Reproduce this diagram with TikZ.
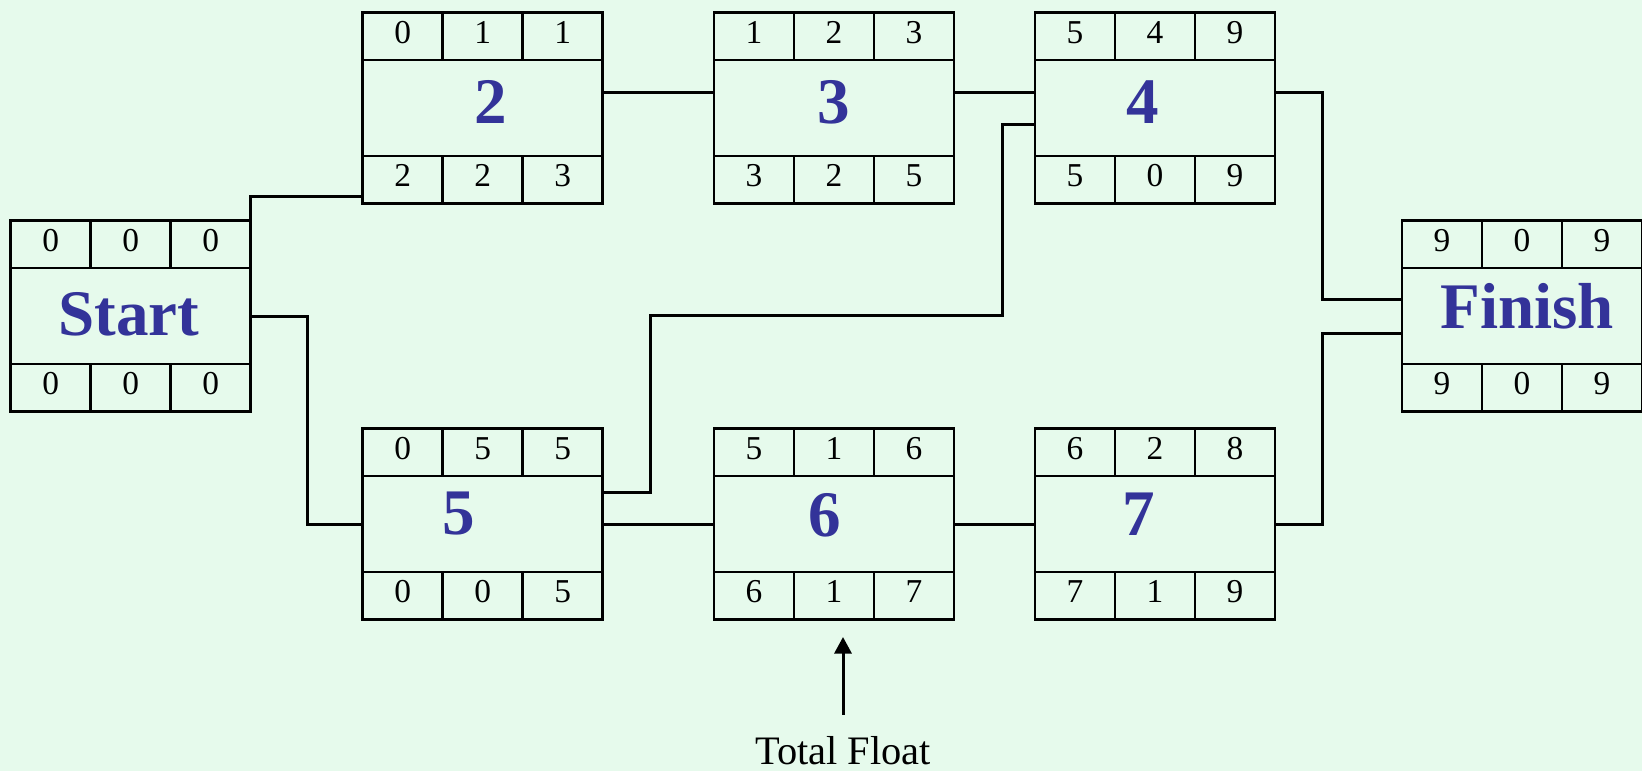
\documentclass[tikz,border=0pt]{standalone}
\usepackage{fontspec}
\setmainfont{Liberation Serif}
\usepackage{tikz}
\usetikzlibrary{arrows.meta,positioning,calc}
\definecolor{actblue}{HTML}{333399}
\definecolor{mint}{HTML}{E6FAEC}

\begin{document}
\begin{tikzpicture}[x=0.2mm, y=-0.2mm,
    actbox/.style={rectangle, draw, line width=0.55mm, minimum width=48mm, minimum height=19.2mm, inner sep=0pt, outer sep=0pt},
    cell/.style={rectangle, draw, line width=0.55mm, minimum width=16mm, minimum height=9.5mm, inner sep=0pt, outer sep=0pt, text depth=1.6mm, font=\fontsize{19}{19}\selectfont},
    actname/.style={inner sep=0pt, anchor=base, text=actblue, font=\fontsize{37}{37}\selectfont\bfseries},
    link/.style={line width=0.6mm},
    pointer/.style={line width=0.6mm, -{Triangle[width=3.4mm,length=3.3mm]}},
    floatlbl/.style={inner sep=0pt, outer ysep=4.2mm, anchor=base, font=\fontsize{23}{23}\selectfont}
]
    \useasboundingbox (0,0) rectangle (1642,771);
    \clip (0,0) rectangle (1642,771);
    \fill[mint] (0,0) rectangle (1642,771);

    % Activity boxes: name / centre / label / label offset / early row / late row
    \foreach \nm/\ax/\ay/\lbl/\lblx/\lbly/\tA/\tB/\tC/\bA/\bB/\bC in {
        start/130.7/316/Start/-2/19/0/0/0/0/0/0,
        n2/482.7/108/2/8/15/0/1/1/2/2/3,
        n3/834/108/3/0/15/1/2/3/3/2/5,
        n4/1155/108/4/-12/15/5/4/9/5/0/9,
        n5/482.7/524/5/-24/10/0/5/5/0/0/5,
        n6/834/524/6/-9/12/5/1/6/6/1/7,
        n7/1155/524/7/-16/11/6/2/8/7/1/9,
        fin/1522/316/Finish/5/12/9/0/9/9/0/9}{
        \node[actbox] (\nm) at (\ax,\ay) {};
        \node[actname] (\nm-lbl) at ([xshift=\lblx*0.2mm, yshift=-\lbly*0.2mm]\nm.center) {\lbl};
        % top row
        \node[cell, anchor=south west] (\nm-t1) at (\nm.north west) {\tA};
        \node[cell, anchor=west] (\nm-t2) at (\nm-t1.east) {\tB};
        \node[cell, anchor=west] (\nm-t3) at (\nm-t2.east) {\tC};
        % bottom row
        \node[cell, anchor=north west] (\nm-b1) at (\nm.south west) {\bA};
        \node[cell, anchor=west] (\nm-b2) at (\nm-b1.east) {\bB};
        \node[cell, anchor=west] (\nm-b3) at (\nm-b2.east) {\bC};
    }

    % Links
    \draw[link] (start-t3.north east) |- ($(n2-b1.south west)+(0,-7)$);
    \draw[link] (start.east) -- ++(57,0) |- (n5.west);
    \draw[link] ($(n2.east)+(0,-16)$) -- ($(n3.west)+(0,-16)$);
    \draw[link] ($(n3.east)+(0,-16)$) -- ($(n4.west)+(0,-16)$);
    \draw[link] ($(n5.east)+(0,-32)$) -| (650,315) -| (1002,124) -- ($(n4.west)+(0,16)$);
    \draw[link] (n5.east) -- (n6.west);
    \draw[link] (n6.east) -- (n7.west);
    \draw[link] ($(n4.east)+(0,-16)$) -| ($(fin.west)+(-80,-17)$) -- ($(fin.west)+(0,-17)$);
    \draw[link] (n7.east) -| ($(fin.west)+(-80,17)$) -- ($(fin.west)+(0,17)$);

    % Total float
    \node[floatlbl] (tf) at (843,764) {Total Float};
    \coordinate (tfhead) at (843,637);
    \draw[pointer] (tf.north) -- (tfhead);
\end{tikzpicture}
\end{document}
